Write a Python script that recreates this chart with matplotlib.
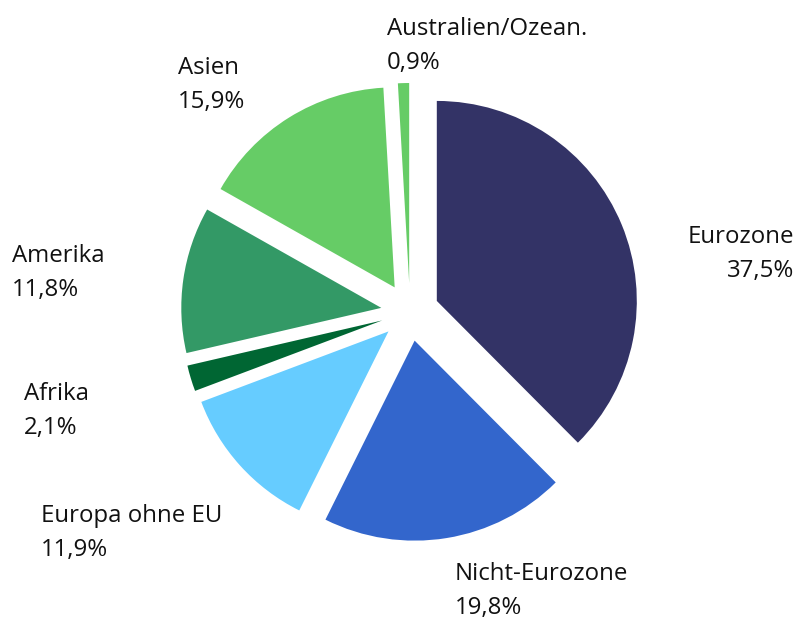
import numpy as np
import matplotlib.pyplot as plt

plt.rcParams['font.family'] = ['Open Sans', 'DejaVu Sans']

# Anteile in Prozent, im Uhrzeigersinn ab 12 Uhr
regionen = ["Eurozone", "Nicht-Eurozone", "Europa ohne EU", "Afrika",
            "Amerika", "Asien", "Australien/Ozean."]
anteile = [37.5, 19.8, 11.9, 2.1, 11.8, 15.9, 0.9]
farben = ["#333366", "#3366CC", "#66CCFF", "#006633",
          "#339966", "#66CC66", "#66CC66"]

W, H = 799, 621
fig = plt.figure(figsize=(W / 100, H / 100), dpi=100)
ax = fig.add_axes([0, 0, 1, 1])

r = 200
# explode in Dateneinheiten (Pixel), da center/radius gesetzt
ax.pie(anteile, colors=farben, startangle=90, counterclock=False,
       center=(410, H - 312), radius=r, explode=[29] * len(anteile),
       wedgeprops=dict(linewidth=0), frame=True)
ax.set_xlim(0, W)
ax.set_ylim(0, H)
ax.set_aspect('equal')
ax.axis('off')

def lbl(s):
    return s.replace('.', ',') + "%"

# Beschriftungen (x, y in Bildpixeln, Ausrichtung)
pos = {
    "Eurozone": (794, 254, 'right'),
    "Nicht-Eurozone": (455, 591, 'left'),
    "Europa ohne EU": (41, 533, 'left'),
    "Afrika": (24, 411, 'left'),
    "Amerika": (12, 273, 'left'),
    "Asien": (178, 85, 'left'),
    "Australien/Ozean.": (387, 46, 'left'),
}
for name, v in zip(regionen, anteile):
    x, y, ha = pos[name]
    ax.text(x, H - y, name + "\n" + lbl(f"{v:.1f}"), ha=ha, va='center',
            fontsize=17.3, color="#111111", linespacing=1.6, multialignment=ha)

fig.savefig("out.png", dpi=100)
